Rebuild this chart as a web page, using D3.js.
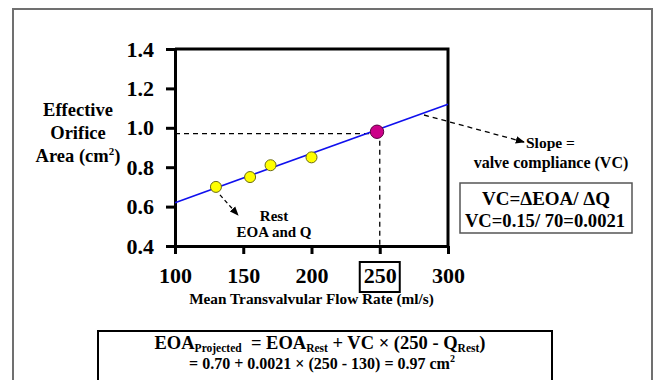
<!DOCTYPE html>
<html>
<head>
<meta charset="utf-8">
<script src="https://cdn.jsdelivr.net/npm/d3@7"></script>
<style>
  body { margin: 0; background: #fff; }
</style>
</head>
<body>
<figure id="chart" style="margin:0"></figure>
<script>
// data
const restFlow = [130, 155, 170, 200];
const restEOA = [0.70, 0.75, 0.81, 0.85];
const projected = { flow: 248, eoa: 0.98 };
const fitLine = [[100, 0.62], [300, 1.12]];
const xTicks = [100, 150, 200, 250, 300];
const yTicks = [0.4, 0.6, 0.8, 1.0, 1.2, 1.4];
const guideFlow = 250;
const guideEOA = 0.97;

const width = 659;
const height = 380;
const serif = "'Liberation Serif', 'Times New Roman', serif";

const svg = d3
  .select('figure#chart')
  .append('svg')
  .attr('width', width)
  .attr('height', height)
  .style('display', 'block');

// outer gray frame
svg.append('rect')
  .attr('x', 13).attr('y', 9)
  .attr('width', 639).attr('height', 400)
  .attr('fill', 'none')
  .attr('stroke', '#707070')
  .attr('stroke-width', 2);

const x = d3.scaleLinear().domain([100, 300]).range([175, 448]);
const y = d3.scaleLinear().domain([0.4, 1.4]).range([246, 49]);

const defs = svg.append('defs');
defs.append('marker')
  .attr('id', 'arrow')
  .attr('viewBox', '0 0 10 10')
  .attr('refX', 9).attr('refY', 5)
  .attr('markerWidth', 7).attr('markerHeight', 7)
  .attr('orient', 'auto')
  .append('path')
  .attr('d', 'M0,1 L10,5 L0,9 z')
  .attr('fill', '#000');

// plot box (top and right edges)
svg.append('path')
  .attr('d', `M${x(100)},${y(1.4)} H${x(300)} V${y(0.4)}`)
  .attr('fill', 'none')
  .attr('stroke', '#000')
  .attr('stroke-width', 3);

// x axis
svg.append('g')
  .attr('transform', 'translate(0,' + y(0.4) + ')')
  .call(d3.axisBottom(x).tickValues(xTicks).tickSize(8).tickSizeOuter(0).tickPadding(13));

// y axis
svg.append('g')
  .attr('transform', 'translate(' + x(100) + ',0)')
  .call(d3.axisLeft(y).tickValues(yTicks).tickSize(9).tickSizeOuter(0).tickPadding(12)
    .tickFormat(d3.format('.1f')));

svg.selectAll('.tick text')
  .attr('fill', '#000')
  .style('font-size', '22px');

svg.selectAll('.domain, .tick line')
  .attr('stroke', '#000')
  .attr('stroke-width', 3);

// box around 250
svg.append('rect')
  .attr('x', x(250) - 20).attr('y', 262)
  .attr('width', 40).attr('height', 30)
  .attr('fill', 'none')
  .attr('stroke', '#000')
  .attr('stroke-width', 2);

// axis titles
svg.append('text')
  .attr('x', x(200)).attr('y', 304)
  .attr('text-anchor', 'middle')
  .style('font-size', '15.3px')
  .text('Mean Transvalvular Flow Rate (ml/s)');

const yTitle = svg.append('text')
  .attr('text-anchor', 'middle')
  .style('font-size', '18.5px');
yTitle.append('tspan').attr('x', 78).attr('y', 116).text('Effective');
yTitle.append('tspan').attr('x', 78).attr('y', 139).text('Orifice');
const l3 = yTitle.append('tspan').attr('x', 78).attr('y', 162);
l3.append('tspan').text('Area (cm');
l3.append('tspan').style('font-size', '11px').attr('dy', -7).text('2');
l3.append('tspan').attr('dy', 7).text(')');

// guide lines to the projected point
svg.append('path')
  .attr('d', `M${x(100)},${y(guideEOA)} H${x(projected.flow)}`)
  .attr('stroke', '#000')
  .attr('stroke-width', 1.3)
  .attr('stroke-dasharray', '5,4');
svg.append('path')
  .attr('d', `M${x(guideFlow)},${y(projected.eoa)} V${y(0.4)}`)
  .attr('stroke', '#000')
  .attr('stroke-width', 1.3)
  .attr('stroke-dasharray', '5,4');

// regression line
svg.append('line')
  .attr('x1', x(fitLine[0][0])).attr('y1', y(fitLine[0][1]))
  .attr('x2', x(fitLine[1][0])).attr('y2', y(fitLine[1][1]))
  .attr('stroke', '#1010ee')
  .attr('stroke-width', 1.6);

// rest points
svg.selectAll('circle.rest')
  .data(restFlow.map((f, i) => [f, restEOA[i]]))
  .enter()
  .append('circle')
  .attr('class', 'rest')
  .attr('cx', (d) => x(d[0]))
  .attr('cy', (d) => y(d[1]))
  .attr('r', 5.5)
  .attr('fill', '#ffff00')
  .attr('stroke', '#6b6b10')
  .attr('stroke-width', 1);

svg.append('circle')
  .attr('cx', x(projected.flow))
  .attr('cy', y(projected.eoa))
  .attr('r', 6.7)
  .attr('fill', '#cc0088')
  .attr('stroke', '#5a0040')
  .attr('stroke-width', 1);

// annotation arrows
svg.append('line')
  .attr('x1', x(130) + 4).attr('y1', y(0.70) + 8)
  .attr('x2', 238).attr('y2', 215)
  .attr('stroke', '#000')
  .attr('stroke-width', 1.3)
  .attr('stroke-dasharray', '4,3')
  .attr('marker-end', 'url(#arrow)');

svg.append('line')
  .attr('x1', 424).attr('y1', 115)
  .attr('x2', 524).attr('y2', 142)
  .attr('stroke', '#000')
  .attr('stroke-width', 1.3)
  .attr('stroke-dasharray', '5,4')
  .attr('marker-end', 'url(#arrow)');

svg.append('text')
  .attr('x', 274).attr('y', 221)
  .attr('text-anchor', 'middle')
  .style('font-size', '15px')
  .text('Rest');
svg.append('text')
  .attr('x', 274).attr('y', 237)
  .attr('text-anchor', 'middle')
  .style('font-size', '15px')
  .text('EOA and Q');

svg.append('text')
  .attr('x', 526).attr('y', 148)
  .style('font-size', '15.5px')
  .text('Slope =');
svg.append('text')
  .attr('x', 551).attr('y', 168)
  .attr('text-anchor', 'middle')
  .style('font-size', '16px')
  .text('valve compliance (VC)');

// VC box
svg.append('rect')
  .attr('x', 460).attr('y', 183)
  .attr('width', 172).attr('height', 50)
  .attr('fill', 'none')
  .attr('stroke', '#555')
  .attr('stroke-width', 1.5);
svg.append('text')
  .attr('x', 546).attr('y', 205)
  .attr('text-anchor', 'middle')
  .style('font-size', '19px')
  .text('VC=\u0394EOA/ \u0394Q');
svg.append('text')
  .attr('x', 545).attr('y', 227)
  .attr('text-anchor', 'middle')
  .style('font-size', '18.6px')
  .text('VC=0.15/ 70=0.0021');

// formula box
svg.append('rect')
  .attr('x', 98).attr('y', 331)
  .attr('width', 454).attr('height', 80)
  .attr('fill', 'none')
  .attr('stroke', '#000')
  .attr('stroke-width', 2);

const f1 = svg.append('text')
  .attr('x', 320).attr('y', 349)
  .attr('text-anchor', 'middle')
  .style('font-size', '18.5px');
f1.append('tspan').text('EOA');
f1.append('tspan').style('font-size', '11.5px').attr('dy', 3).text('Projected');
f1.append('tspan').attr('dy', -3).text('\u00a0 = EOA');
f1.append('tspan').style('font-size', '11.5px').attr('dy', 3).text('Rest');
f1.append('tspan').attr('dy', -3).text(' + VC \u00d7 (250 - Q');
f1.append('tspan').style('font-size', '11.5px').attr('dy', 3).text('Rest');
f1.append('tspan').attr('dy', -3).text(')');

const f2 = svg.append('text')
  .attr('x', 322).attr('y', 369)
  .attr('text-anchor', 'middle')
  .style('font-size', '16px');
f2.append('tspan').text('= 0.70 + 0.0021 \u00d7 (250 - 130) = 0.97 cm');
f2.append('tspan').style('font-size', '10px').attr('dy', -7).text('2');

// serif bold for every text, set inline
svg.selectAll('g').attr('font-family', null).attr('font-size', null);
svg.selectAll('text')
  .style('font-family', serif)
  .style('font-weight', 'bold');
</script>
</body>
</html>
